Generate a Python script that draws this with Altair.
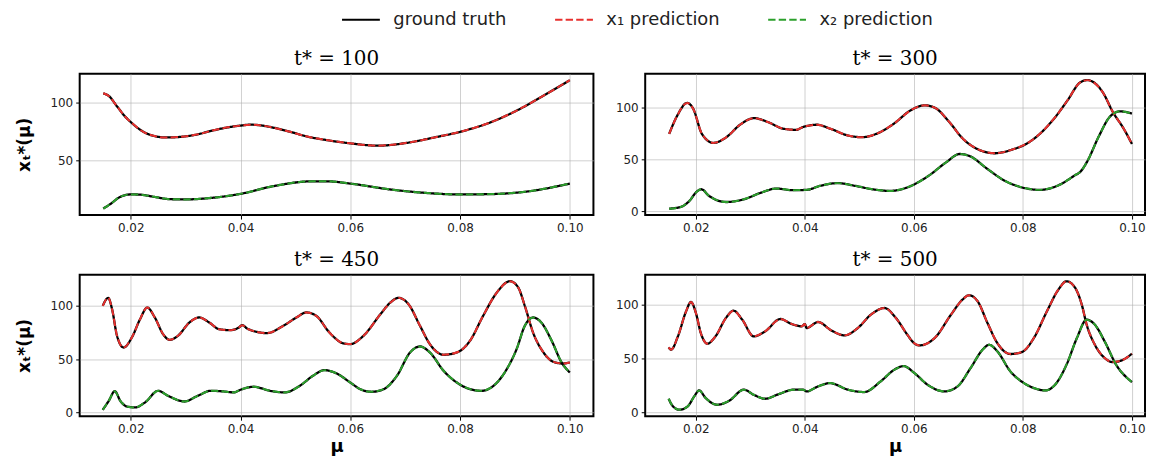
import altair as alt
import pandas as pd

# ---------------- data ----------------
LABELS = ["ground truth", "x₁ prediction", "x₂ prediction"]
COLORS = ["#000000", "#e8302e", "#2ca02c"]

TITLES = ["t* = 100", "t* = 300", "t* = 450", "t* = 500"]

# t* = 100
TL_X1_MU = [0.0150, 0.0160, 0.0175, 0.0190, 0.0200, 0.0223, 0.0245, 0.0263, 0.0290, 0.0320,
            0.0349, 0.0380, 0.0400, 0.0418, 0.0440, 0.0459, 0.0490, 0.0520, 0.0560, 0.0600,
            0.0650, 0.0704, 0.0753, 0.0800, 0.0857, 0.0906, 0.0949, 0.1000]
TL_X1_VAL = [108.3, 106.0, 97.0, 88.0, 83.4, 74.9, 71.0, 70.0, 70.5, 72.5,
             76.0, 79.0, 80.3, 81.1, 80.3, 78.6, 75.0, 71.0, 67.5, 64.9,
             62.9, 65.4, 70.0, 74.9, 83.4, 94.0, 105.4, 119.7]
TL_X2_MU = [0.0150, 0.0165, 0.0180, 0.0200, 0.0215, 0.0245, 0.0270, 0.0300, 0.0349, 0.0400,
            0.0459, 0.0532, 0.0557, 0.0600, 0.0673, 0.0735, 0.0800, 0.0857, 0.0918, 0.1000]
TL_X2_VAL = [8.3, 13.0, 18.3, 20.6, 20.5, 18.3, 16.5, 16.3, 17.7, 21.1,
             27.7, 32.0, 32.0, 30.0, 24.9, 22.0, 20.6, 20.9, 22.9, 30.0]

# t* = 300
TR_X1_MU = [0.0151, 0.0166, 0.0184, 0.0195, 0.0211, 0.0232, 0.0256, 0.0281, 0.0307, 0.0332,
            0.0361, 0.0384, 0.0396, 0.0403, 0.0422, 0.0447, 0.0479, 0.0505, 0.0531, 0.0563,
            0.0594, 0.0620, 0.0639, 0.0665, 0.0690, 0.0716, 0.0748, 0.0780, 0.0806, 0.0831,
            0.0857, 0.0882, 0.0905, 0.0918, 0.0946, 0.0965, 0.0985, 0.1000]
TR_X1_VAL = [74.4, 92.2, 104.2, 98.7, 74.4, 65.7, 71.2, 83.2, 89.6, 85.8,
             79.3, 78.3, 80.9, 81.9, 83.2, 79.3, 72.8, 71.2, 74.4, 84.1,
             97.1, 101.9, 99.4, 85.8, 69.6, 59.9, 55.7, 59.2, 64.7, 74.4,
             89.0, 106.8, 124.0, 126.2, 114.9, 95.5, 79.3, 64.7]
TR_X2_MU = [0.0151, 0.0172, 0.0188, 0.0201, 0.0210, 0.0224, 0.0256, 0.0288, 0.0320, 0.0348,
            0.0377, 0.0403, 0.0428, 0.0460, 0.0492, 0.0524, 0.0556, 0.0595, 0.0627, 0.0659,
            0.0684, 0.0703, 0.0735, 0.0767, 0.0799, 0.0831, 0.0863, 0.0894, 0.0907, 0.0917,
            0.0940, 0.0959, 0.0978, 0.1000]
TR_X2_VAL = [2.3, 3.9, 9.7, 18.4, 21.0, 14.6, 8.7, 11.3, 17.8, 21.7,
             20.1, 20.4, 24.3, 26.9, 24.3, 21.0, 19.4, 24.3, 34.0, 46.9,
             55.0, 52.8, 40.5, 29.1, 22.7, 20.4, 24.3, 34.0, 38.8, 46.9,
             72.8, 90.6, 96.1, 93.9]

# t* = 450
BL_X1_MU = [0.0149, 0.0159, 0.0166, 0.0175, 0.0187, 0.0202, 0.0217, 0.0230, 0.0244, 0.0259,
            0.0271, 0.0286, 0.0307, 0.0325, 0.0343, 0.0361, 0.0382, 0.0397, 0.0403, 0.0412,
            0.0430, 0.0448, 0.0478, 0.0502, 0.0520, 0.0538, 0.0562, 0.0588, 0.0600, 0.0624,
            0.0655, 0.0673, 0.0688, 0.0706, 0.0727, 0.0745, 0.0770, 0.0797, 0.0818, 0.0842,
            0.0867, 0.0891, 0.0906, 0.0918, 0.0933, 0.0952, 0.0970, 0.0988, 0.1000]
BL_X1_VAL = [100.0, 107.5, 96.9, 71.9, 60.9, 70.3, 87.5, 98.4, 89.0, 73.4,
             68.1, 71.9, 84.4, 89.1, 84.4, 78.1, 77.2, 79.7, 81.9, 78.8,
             75.6, 74.4, 81.3, 89.1, 93.8, 90.6, 75.0, 64.7, 64.1, 71.9,
             92.2, 103.1, 107.5, 101.6, 81.3, 64.1, 54.1, 56.9, 67.2, 90.6,
             112.5, 123.1, 117.2, 100.0, 75.0, 56.3, 47.5, 45.9, 46.9]
BL_X2_MU = [0.0149, 0.0160, 0.0171, 0.0181, 0.0193, 0.0208, 0.0226, 0.0250, 0.0268, 0.0298,
            0.0322, 0.0346, 0.0370, 0.0388, 0.0400, 0.0424, 0.0454, 0.0481, 0.0508, 0.0532,
            0.0553, 0.0574, 0.0600, 0.0618, 0.0639, 0.0661, 0.0685, 0.0709, 0.0727, 0.0745,
            0.0770, 0.0794, 0.0818, 0.0839, 0.0861, 0.0885, 0.0903, 0.0918, 0.0933, 0.0948,
            0.0967, 0.0985, 0.1000]
BL_X2_VAL = [2.5, 10.9, 20.0, 10.9, 5.6, 4.7, 9.4, 20.3, 15.6, 10.3,
             15.6, 20.3, 19.7, 18.8, 21.3, 24.1, 20.3, 18.8, 25.0, 34.4,
             39.7, 36.9, 28.1, 21.9, 19.4, 21.9, 34.4, 56.3, 61.9, 56.3,
             39.1, 28.1, 21.9, 20.3, 25.0, 40.6, 59.4, 81.3, 89.1, 84.4,
             67.2, 46.9, 37.5]

# t* = 500
BR_X1_MU = [0.0150, 0.01545, 0.0167, 0.0182, 0.0191, 0.0200, 0.0209, 0.0221, 0.0236, 0.0255,
            0.0269, 0.0285, 0.0306, 0.0327, 0.0355, 0.0376, 0.0394, 0.0400, 0.0403, 0.0424,
            0.0449, 0.0473, 0.0497, 0.0521, 0.0546, 0.0567, 0.0588, 0.0600, 0.0610, 0.0638,
            0.0668, 0.0689, 0.0701, 0.0717, 0.0735, 0.0753, 0.0777, 0.0798, 0.0820, 0.0844,
            0.0865, 0.0880, 0.0896, 0.0908, 0.0917, 0.0932, 0.0950, 0.0965, 0.0984, 0.1000]
BR_X1_VAL = [60.4, 58.2, 70.6, 93.8, 102.5, 92.3, 73.7, 63.8, 70.6, 87.6,
             94.4, 86.1, 70.6, 75.2, 86.7, 82.0, 79.9, 82.0, 78.3, 83.9,
             75.9, 71.5, 78.3, 90.7, 96.9, 87.6, 72.1, 64.4, 62.2, 69.0,
             90.7, 104.6, 108.7, 103.1, 83.0, 64.4, 54.2, 56.0, 69.0, 93.8,
             113.9, 121.7, 115.5, 100.0, 81.4, 62.8, 50.5, 46.7, 48.9, 54.5]
BR_X2_MU = [0.0150, 0.0158, 0.0170, 0.0185, 0.0197, 0.0206, 0.0218, 0.0239, 0.0261, 0.0288,
            0.0306, 0.0327, 0.0352, 0.0379, 0.0397, 0.0403, 0.0424, 0.0446, 0.0479, 0.0509,
            0.0539, 0.0564, 0.0581, 0.0601, 0.0625, 0.0656, 0.0680, 0.0704, 0.0726, 0.0738,
            0.0753, 0.0777, 0.0802, 0.0826, 0.0841, 0.0859, 0.0880, 0.0899, 0.0917, 0.0932,
            0.0950, 0.0971, 0.1000]
BR_X2_VAL = [12.7, 5.6, 2.5, 5.6, 14.9, 20.4, 13.3, 7.1, 10.8, 21.1,
             16.4, 12.7, 17.0, 21.1, 21.1, 19.5, 24.1, 27.2, 21.1, 18.9,
             28.8, 39.6, 43.0, 36.5, 25.7, 19.5, 24.1, 41.2, 58.2, 62.8,
             56.7, 38.1, 27.2, 21.7, 20.4, 25.7, 44.3, 69.0, 86.1, 81.4,
             65.9, 44.3, 28.2]

X_TICKS = [0.02, 0.04, 0.06, 0.08, 0.10]
X_DOMAIN_LEFT = [0.0107, 0.1043]
X_DOMAIN_RIGHT = [0.0107, 0.1024]
Y_DOMAINS = [[2.7, 125.3], [-3.9, 132.4], [-3.5, 129.1], [-3.5, 127.7]]
Y_TICKS = [[50, 100], [0, 50, 100], [0, 50, 100], [0, 50, 100]]


def panel_df(x1_mu, x1_val, x2_mu, x2_val):
    rows = []
    for s, mus, vals, lab in (("x1", x1_mu, x1_val, LABELS[1]),
                              ("x2", x2_mu, x2_val, LABELS[2])):
        for m, v in zip(mus, vals):
            rows.append({"series": s, "mu": m, "value": v, "label": LABELS[0], "kind": "gt"})
            rows.append({"series": s, "mu": m, "value": v, "label": lab, "kind": "pred"})
    return pd.DataFrame(rows)


def panel(df, title, xdom, ydom, yticks, ytitle, xtitle, width):
    base = alt.Chart(df)
    x = alt.X("mu:Q",
              scale=alt.Scale(domain=xdom, nice=False, zero=False),
              axis=alt.Axis(values=X_TICKS, format=".2f", title=xtitle))
    y = alt.Y("value:Q",
              scale=alt.Scale(domain=ydom, nice=False, zero=False),
              axis=alt.Axis(values=yticks, title=ytitle))
    color = alt.Color("label:N", scale=alt.Scale(domain=LABELS, range=COLORS), title=None)
    dash = alt.StrokeDash("label:N",
                          scale=alt.Scale(domain=LABELS, range=[[1, 0], [7.4, 3.2], [7.4, 3.2]]),
                          title=None)
    gt = base.transform_filter(alt.datum.kind == "gt").mark_line(
        strokeWidth=2.3, interpolate="monotone", clip=True
    ).encode(x=x, y=y, color=color, strokeDash=dash, detail="series:N")
    pred = base.transform_filter(alt.datum.kind == "pred").mark_line(
        strokeWidth=2.0, interpolate="monotone", clip=True
    ).encode(x=x, y=y, color=color, strokeDash=dash, detail="series:N")
    return alt.layer(gt, pred).properties(width=width, height=142, title=title)


YT = "xₜ*(μ)"
tl = panel(panel_df(TL_X1_MU, TL_X1_VAL, TL_X2_MU, TL_X2_VAL), TITLES[0], X_DOMAIN_LEFT,
           Y_DOMAINS[0], Y_TICKS[0], YT, None, 516)
tr = panel(panel_df(TR_X1_MU, TR_X1_VAL, TR_X2_MU, TR_X2_VAL), TITLES[1], X_DOMAIN_RIGHT,
           Y_DOMAINS[1], Y_TICKS[1], None, None, 502)
bl = panel(panel_df(BL_X1_MU, BL_X1_VAL, BL_X2_MU, BL_X2_VAL), TITLES[2], X_DOMAIN_LEFT,
           Y_DOMAINS[2], Y_TICKS[2], YT, "μ", 516)
br = panel(panel_df(BR_X1_MU, BR_X1_VAL, BR_X2_MU, BR_X2_VAL), TITLES[3], X_DOMAIN_RIGHT,
           Y_DOMAINS[3], Y_TICKS[3], None, "μ", 502)

chart = alt.vconcat(
    alt.hconcat(tl, tr, spacing=20),
    alt.hconcat(bl, br, spacing=20),
    spacing=15,
).properties(
    padding={"left": 6, "top": 0, "right": 0, "bottom": 0}
).configure_view(
    stroke="black", strokeWidth=2
).configure_axis(
    domain=False,
    grid=True, gridColor="#b0b0b0", gridOpacity=0.6, gridWidth=1,
    tickColor="black", tickSize=4, tickWidth=1,
    labelFont="DejaVu Sans", labelFontSize=12, labelColor="#222222", labelPadding=3,
    titleFont="DejaVu Sans", titleFontWeight="bold", titleColor="black",
).configure_axisX(
    titleFontSize=18, titlePadding=3
).configure_axisY(
    titleFontSize=17, titlePadding=17
).configure_title(
    font="DejaVu Serif", fontSize=20, fontWeight="normal", color="black", offset=5
).configure_legend(
    orient="none", legendX=272, legendY=-65, direction="horizontal",
    symbolType="M-2,0H2", symbolSize=361, symbolStrokeWidth=2,
    labelFont="DejaVu Sans", labelFontSize=18, labelColor="#222222",
    labelOffset=22, columnPadding=44, padding=0
)

chart.save("out.html", embed_options={"renderer": "svg", "actions": False})
